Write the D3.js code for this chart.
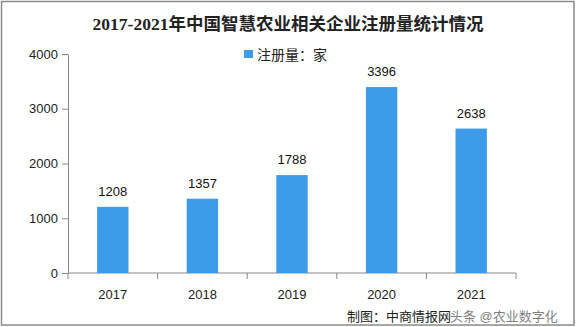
<!DOCTYPE html>
<html>
<head>
<meta charset="utf-8">
<script src="https://cdn.jsdelivr.net/npm/d3@7"></script>
<style>
  body { margin: 0; background: #fff; }
  svg { display: block; }
</style>
</head>
<body>
<svg id="chart"></svg>
<script>
// 数据
const years = ["2017", "2018", "2019", "2020", "2021"];
const counts = [1208, 1357, 1788, 3396, 2638];
const yTicks = [0, 1000, 2000, 3000, 4000];
const seriesName = "注册量：家";
const titleText = "2017-2021年中国智慧农业相关企业注册量统计情况";
const sourceText = "制图：中商情报网";
const markText = "头条 @农业数字化";

const width = 576;
const height = 327;
const marge = { top: 54, bottom: 54, left: 68, right: 60 };
const barColor = "#3d9be9";
const cjk = "'Liberation Serif', 'Noto Sans CJK SC', serif";
const sans = "'Liberation Sans', 'Noto Sans CJK SC', sans-serif";

const svg = d3.select("#chart").attr("width", width).attr("height", height);

// 边框
svg.append("rect")
  .attr("x", 1.5).attr("y", 1.5)
  .attr("width", width - 3.5).attr("height", height - 3.5)
  .attr("fill", "none").attr("stroke", "#8a8a8a").attr("stroke-width", 1.5);

// 标题
svg.append("text")
  .attr("x", 288).attr("y", 30)
  .attr("text-anchor", "middle")
  .attr("font-family", cjk).attr("font-weight", "bold")
  .attr("font-size", 17.5).attr("fill", "#222")
  .text(titleText);

// 图例
svg.append("rect")
  .attr("x", 244).attr("y", 50).attr("width", 9).attr("height", 8)
  .attr("fill", barColor);
svg.append("text")
  .attr("x", 257).attr("y", 60)
  .attr("font-family", sans).attr("font-size", 14).attr("fill", "#222")
  .text(seriesName);

// 比例尺
const yScale = d3.scaleLinear()
  .domain([0, 4000])
  .range([height - marge.bottom, marge.top]);
const xScale = d3.scaleBand()
  .domain(years)
  .range([marge.left, width - marge.right])
  .paddingInner(0.65)
  .paddingOuter(0.325);

// y轴
const gay = svg.append("g")
  .attr("transform", `translate(${marge.left},0)`)
  .call(d3.axisLeft(yScale).tickValues(yTicks).tickFormat(d3.format("d"))
    .tickSize(6).tickPadding(4).tickSizeOuter(0));
gay.select(".domain").attr("stroke", "#888");
gay.selectAll(".tick line").attr("stroke", "#888");
gay.selectAll("text").attr("font-family", sans).attr("font-size", 13).attr("fill", "#222");

// x轴
const xEdges = d3.range(years.length + 1).map(i =>
  marge.left + i * (width - marge.left - marge.right) / years.length);
const gax = svg.append("g")
  .attr("transform", `translate(0,${height - marge.bottom})`);
gax.append("line")
  .attr("x1", marge.left).attr("x2", width - marge.right)
  .attr("stroke", "#888");
gax.selectAll("line.tk").data(xEdges).enter().append("line")
  .attr("class", "tk")
  .attr("x1", d => d).attr("x2", d => d)
  .attr("y1", 0).attr("y2", 6)
  .attr("stroke", "#888");
gax.selectAll("text").data(years).enter().append("text")
  .attr("x", d => xScale(d) + xScale.bandwidth() / 2)
  .attr("y", 26)
  .attr("text-anchor", "middle")
  .attr("font-family", sans).attr("font-size", 13).attr("fill", "#222")
  .text(d => d);

// 柱子
const gs = svg.append("g").selectAll("g").data(counts).enter().append("g");
gs.append("rect")
  .attr("x", (d, i) => xScale(years[i]))
  .attr("y", d => yScale(d))
  .attr("width", xScale.bandwidth())
  .attr("height", d => yScale(0) - yScale(d))
  .attr("fill", barColor);
gs.append("text")
  .attr("x", (d, i) => xScale(years[i]) + xScale.bandwidth() / 2)
  .attr("y", d => yScale(d) - 11)
  .attr("text-anchor", "middle")
  .attr("font-family", sans).attr("font-size", 13).attr("fill", "#111")
  .text(d => d);

// 来源
svg.append("text")
  .attr("x", 347).attr("y", 321)
  .attr("font-family", sans).attr("font-size", 13).attr("fill", "#222")
  .text(sourceText);
svg.append("text")
  .attr("x", 450).attr("y", 321)
  .attr("font-family", sans).attr("font-size", 13).attr("fill", "#555")
  .attr("opacity", 0.75)
  .text(markText);
</script>
</body>
</html>
